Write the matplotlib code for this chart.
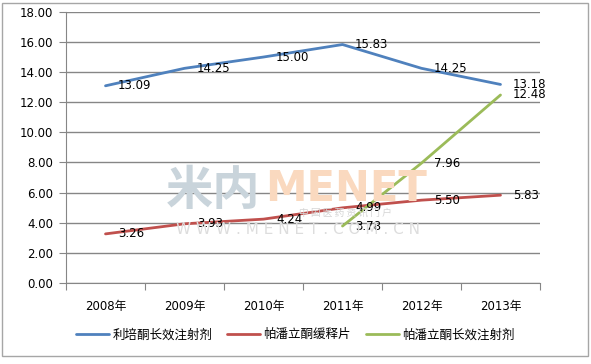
import matplotlib
matplotlib.use("Agg")
import matplotlib.pyplot as plt
import numpy as np
from matplotlib.patches import Rectangle

plt.rcParams['font.family'] = ['DejaVu Sans', 'Noto Sans CJK SC']

years = ['2008年', '2009年', '2010年', '2011年', '2012年', '2013年']
names = ['利培酮长效注射剂', '帕潘立酮缓释片', '帕潘立酮长效注射剂']
risperidone_inj = [13.09, 14.25, 15.00, 15.83, 14.25, 13.18]
paliperidone_er = [3.26, 3.93, 4.24, 4.99, 5.50, 5.83]
paliperidone_inj = [3.78, 7.96, 12.48]   # from 2011 on
colors = ['#4F81BD', '#C0504D', '#9BBB59']

fig = plt.figure(figsize=(5.91, 3.64), dpi=100)
ax = fig.add_axes([0.1117, 0.2225, 0.802, 0.745])

# watermark
fig.text(0.36, 0.475, '米内', fontsize=34, fontweight='bold', color='#C9D4DB',
         family=['Noto Sans CJK SC'], ha='center', va='center', zorder=0)
fig.text(0.585, 0.48, 'MENET', fontsize=30, fontweight='bold', color='#FAD9BF',
         ha='center', va='center', zorder=0)
fig.text(0.585, 0.415, '中 国 医 药 资 讯 门 户', fontsize=7, color='#D5D5D5',
         family=['Noto Sans CJK SC'], ha='center', va='center', zorder=0)
fig.text(0.505, 0.37, 'W W W . M E N E T . C O M . C N', fontsize=11, color='#DDDDDD',
         ha='center', va='center', zorder=0)
ax.patch.set_alpha(0)

x = np.arange(len(years))
series = [(x, risperidone_inj), (x, paliperidone_er), (x[3:], paliperidone_inj)]
for (xs, ys), name, c in zip(series, names, colors):
    ax.plot(xs, ys, color=c, lw=2.0, label=name, solid_capstyle='round')
    for xi, yi in zip(xs, ys):
        ax.annotate(f'{yi:.2f}', (xi, yi), xytext=(9, 0), textcoords='offset points',
                    ha='left', va='center', fontsize=8.5, color='black')

ax.set_xlim(-0.5, 5.5)
ax.set_ylim(0, 18)
ax.set_yticks(np.arange(0, 19, 2))
ax.set_yticklabels([f'{v:.2f}' for v in np.arange(0, 19, 2)], fontsize=8.5)
ax.yaxis.grid(True, color='#868686', lw=1)
ax.set_axisbelow(True)

ax.set_xticks(np.arange(-0.5, 6, 1))
ax.set_xticklabels([])
ax.set_xticks(x, minor=True)
ax.set_xticklabels(years, minor=True, fontsize=8.5)
ax.tick_params(axis='x', which='minor', length=0, pad=12)
ax.tick_params(axis='x', which='major', length=5, color='#868686')
ax.tick_params(axis='y', length=5, color='#868686', pad=4)

for s in ['top', 'right']:
    ax.spines[s].set_visible(False)
for s in ['left', 'bottom']:
    ax.spines[s].set_color('#868686')

fig.legend(loc='center', bbox_to_anchor=(0.5, 0.08), ncol=3, frameon=False,
           fontsize=9, handlelength=2.6, columnspacing=1.2, handletextpad=0.3)

fig.patches.append(Rectangle((0.003, 0.022), 0.992, 0.97, transform=fig.transFigure,
                             fill=False, edgecolor='#A6A6A6', lw=1))

fig.savefig('out.png', dpi=100)
